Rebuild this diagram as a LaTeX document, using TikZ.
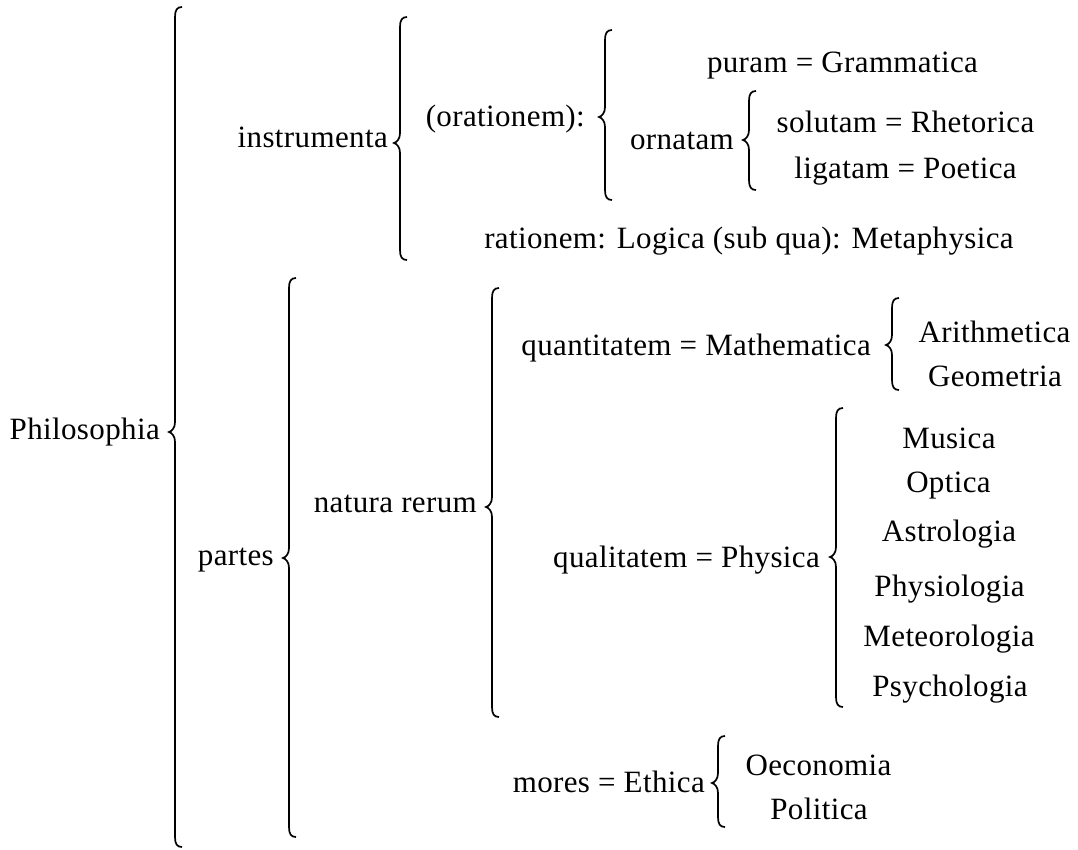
\documentclass[tikz,border=0pt]{standalone}
\usepackage{fontspec}
\setmainfont{Liberation Serif}[LetterSpace=1.2]
\tikzset{
  lbl/.style={inner sep=0pt, font=\fontsize{31}{36}\selectfont},
  bracestyle/.style={line width=1.7pt, line cap=butt, black}
}
\newcommand\mybrace[4]{%
  \draw[bracestyle] (#1+7,#2) .. controls (#1+2,#2) and (#1,#2+3) .. (#1,#2+10)
    -- (#1,#3-10) .. controls (#1,#3-4) and (#1-3,#3-1) .. (#1-6,#3)
    .. controls (#1-3,#3+1) and (#1,#3+4) .. (#1,#3+10)
    -- (#1,#4-10) .. controls (#1,#4-3) and (#1+2,#4) .. (#1+7,#4);}
\begin{document}
\begin{tikzpicture}[x=1pt,y=-1pt]
\useasboundingbox[fill=white] (0,0) rectangle (1078,849);
% braces
\mybrace{175}{7}{432}{847}
\mybrace{400}{17}{143}{260}
\mybrace{605}{30}{117}{200}
\mybrace{749}{91}{140}{190}
\mybrace{289}{278}{558}{837}
\mybrace{492}{288}{507}{717}
\mybrace{892}{298}{345}{390}
\mybrace{836}{408}{557}{707}
\mybrace{718}{736}{783}{827}
% labels before braces
\node[lbl, anchor=base east] (philo) at (160,439) {Philosophia};
\node[lbl, anchor=base east] (instr) at (388,147) {instrumenta};
\node[lbl, anchor=base east] (orat) at (585,126) {(orationem):};
\node[lbl, anchor=base east] (ornat) at (734,149) {ornatam};
\node[lbl, anchor=base east] (partes) at (274,565) {partes};
\node[lbl, anchor=base east] (natura) at (477,512) {natura rerum};
\node[lbl, anchor=base east] (quant) at (871,355) {quantitatem = Mathematica};
\node[lbl, anchor=base east] (qual) at (820,567) {qualitatem = Physica};
\node[lbl, anchor=base east] (mores) at (705,792) {mores = Ethica};
% leaves
\node[lbl, anchor=base] (puram) at (842.5,72) {puram = Grammatica};
\node[lbl, anchor=base] (solut) at (905.5,132) {solutam = Rhetorica};
\node[lbl, anchor=base] (ligat) at (905.5,178) {ligatam = Poetica};
\node[lbl, anchor=base] (ration) at (749,248) {rationem: Logica (sub qua): Metaphysica};
\node[lbl, anchor=base] (arith) at (994.5,342) {Arithmetica};
\node[lbl, anchor=base] (geom) at (995,386) {Geometria};
\node[lbl, anchor=base] (musica) at (949,448) {Musica};
\node[lbl, anchor=base] (optica) at (948.5,492) {Optica};
\node[lbl, anchor=base] (astro) at (949,541) {Astrologia};
\node[lbl, anchor=base] (physio) at (949.5,596) {Physiologia};
\node[lbl, anchor=base] (meteo) at (949,646) {Meteorologia};
\node[lbl, anchor=base] (psych) at (950,696) {Psychologia};
\node[lbl, anchor=base] (oecon) at (818.5,775) {Oeconomia};
\node[lbl, anchor=base] (polit) at (819,819) {Politica};
\end{tikzpicture}
\end{document}
